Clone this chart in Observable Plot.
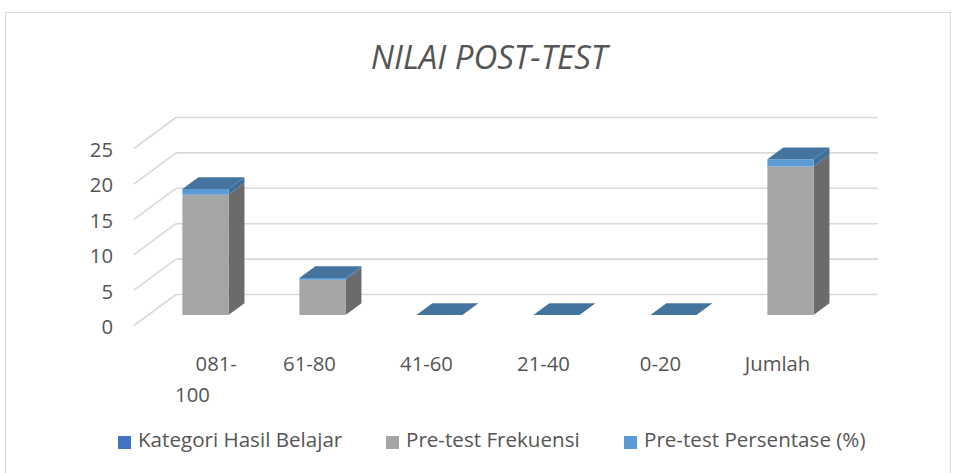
<!DOCTYPE html>
<html>
<head>
<meta charset="utf-8">
<script src="https://cdn.jsdelivr.net/npm/d3@7"></script>
<script src="https://cdn.jsdelivr.net/npm/@observablehq/plot@0.6"></script>
<style>
  body { margin: 0; background: #fff; font-family: "Open Sans", sans-serif; color: #555; }
  #wrap { position: relative; width: 954px; height: 473px; overflow: hidden; background: #fff; }
  #frame { position: absolute; left: 5px; top: 12px; width: 946px; height: 470px; border: 1.5px solid #d9d9d9; box-sizing: border-box; }
  #chart { position: absolute; left: 0; top: 0; }
  #title { position: absolute; left: 0; top: 40px; width: 978px; text-align: center; font-size: 33px; line-height: 1; font-style: italic; color: #555; white-space: nowrap; }
  .lg { position: absolute; top: 429px; font-size: 20.6px; line-height: 1; white-space: nowrap; color: #555; }
  .sw { position: absolute; top: 436px; width: 13px; height: 13px; }
</style>
</head>
<body>
<div id="wrap">
  <div id="frame"></div>
  <div id="chart"></div>
  <div id="title">NILAI POST-TEST</div>
  <div id="legend"></div>
</div>
<script>
// ---- data ----
const categories = ["\u00a0\u00a0\u00a0\u00a0\u00a0\u00a0\u00a0\u00a0\u00a0081-\n100", "61-80", "41-60", "21-40", "0-20", "Jumlah"];
const kategoriHasil = [0, 0, 0, 0, 0, 0];
const preFrekuensi = [17, 5, 0, 0, 0, 21];
const prePersentase = [0.81, 0.24, 0, 0, 0, 1];
const yTicks = [0, 5, 10, 15, 20, 25];
const seriesNames = ["Kategori Hasil Belajar", "Pre-test Frekuensi", "Pre-test Persentase (%)"];
const seriesColors = ["#4472c4", "#a5a5a5", "#5b9bd5"];
const sideColors = ["#2f5597", "#6b6b6b", "#3f6f9b"];
const topColor = "#44739e";

// ---- 3D geometry (in data units) ----
const DX = 42 / 117;   // x offset of full depth
const DY = 31 / 7.08;  // y offset of full depth
const D0 = 0.32, D1 = 0.70, HW = 0.197;
const xMin = -0.5, xMax = categories.length - 0.5;

const faces = [];
let fid = 0;
function quad(A, B, C, D, color) {
  const id = fid++;
  faces.push({id, x2: A[0], y2: A[1], x1: D[0], y1: D[1], color});
  faces.push({id, x2: B[0], y2: B[1], x1: C[0], y1: C[1], color});
}
const ddx = (D1 - D0) * DX, ddy = (D1 - D0) * DY;
categories.forEach((c, i) => {
  const xl = i + D0 * DX - HW, xr = i + D0 * DX + HW;
  let lo = D0 * DY;
  const vals = [kategoriHasil[i], preFrekuensi[i], prePersentase[i]];
  vals.forEach((v, s) => {
    if (v <= 0) return;
    const hi = lo + v;
    quad([xr, lo], [xr + ddx, lo + ddy], [xr + ddx, hi + ddy], [xr, hi], sideColors[s]);
    quad([xl, lo], [xr, lo], [xr, hi], [xl, hi], seriesColors[s]);
    lo = hi;
  });
  quad([xl, lo], [xr, lo], [xr + ddx, lo + ddy], [xl + ddx, lo + ddy], topColor);
});

const grid = "#d9d9d9";
const chart = Plot.plot({
  width: 954,
  height: 473,
  marginLeft: 133.5,
  marginRight: 118.5,
  marginTop: 148,
  marginBottom: 148,
  x: {domain: [xMin, xMax], axis: null},
  y: {domain: [0, 25], axis: null},
  color: {type: "identity"},
  style: {fontFamily: "Open Sans", fontSize: "20.3px", color: "#555", background: "transparent", overflow: "visible"},
  marks: [
    // left wall diagonals
    Plot.link(yTicks, {x1: () => xMin, y1: d => d, x2: () => xMin + DX, y2: d => d + DY, stroke: grid, strokeWidth: 1.6}),
    // back wall lines
    Plot.link(yTicks, {x1: () => xMin + DX, y1: d => d + DY, x2: () => xMax + DX, y2: d => d + DY, stroke: grid, strokeWidth: 1.6}),
    // bars (faces)
    Plot.area(faces, {x1: "x1", y1: "y1", x2: "x2", y2: "y2", z: "id", fill: "color", curve: "linear"}),
    // y tick labels
    Plot.text(yTicks, {x: () => xMin, y: d => d, text: d => String(d), textAnchor: "end", dx: -21, dy: 2, fill: "#555"}),
    // x labels
    Plot.text(categories, {x: (d, i) => i, y: () => 0, text: d => d, lineAnchor: "top", dy: 24, lineHeight: 1.5, fill: "#555"})
  ]
});
document.getElementById("chart").appendChild(chart);

// legend
const legendX = [[118, 138], [386, 406], [624, 644]];
const lg = document.getElementById("legend");
seriesNames.forEach((n, i) => {
  const sw = document.createElement("div");
  sw.className = "sw"; sw.style.left = legendX[i][0] + "px"; sw.style.background = seriesColors[i];
  const t = document.createElement("div");
  t.className = "lg"; t.style.left = legendX[i][1] + "px"; t.textContent = n;
  lg.appendChild(sw); lg.appendChild(t);
});
</script>
</body>
</html>
